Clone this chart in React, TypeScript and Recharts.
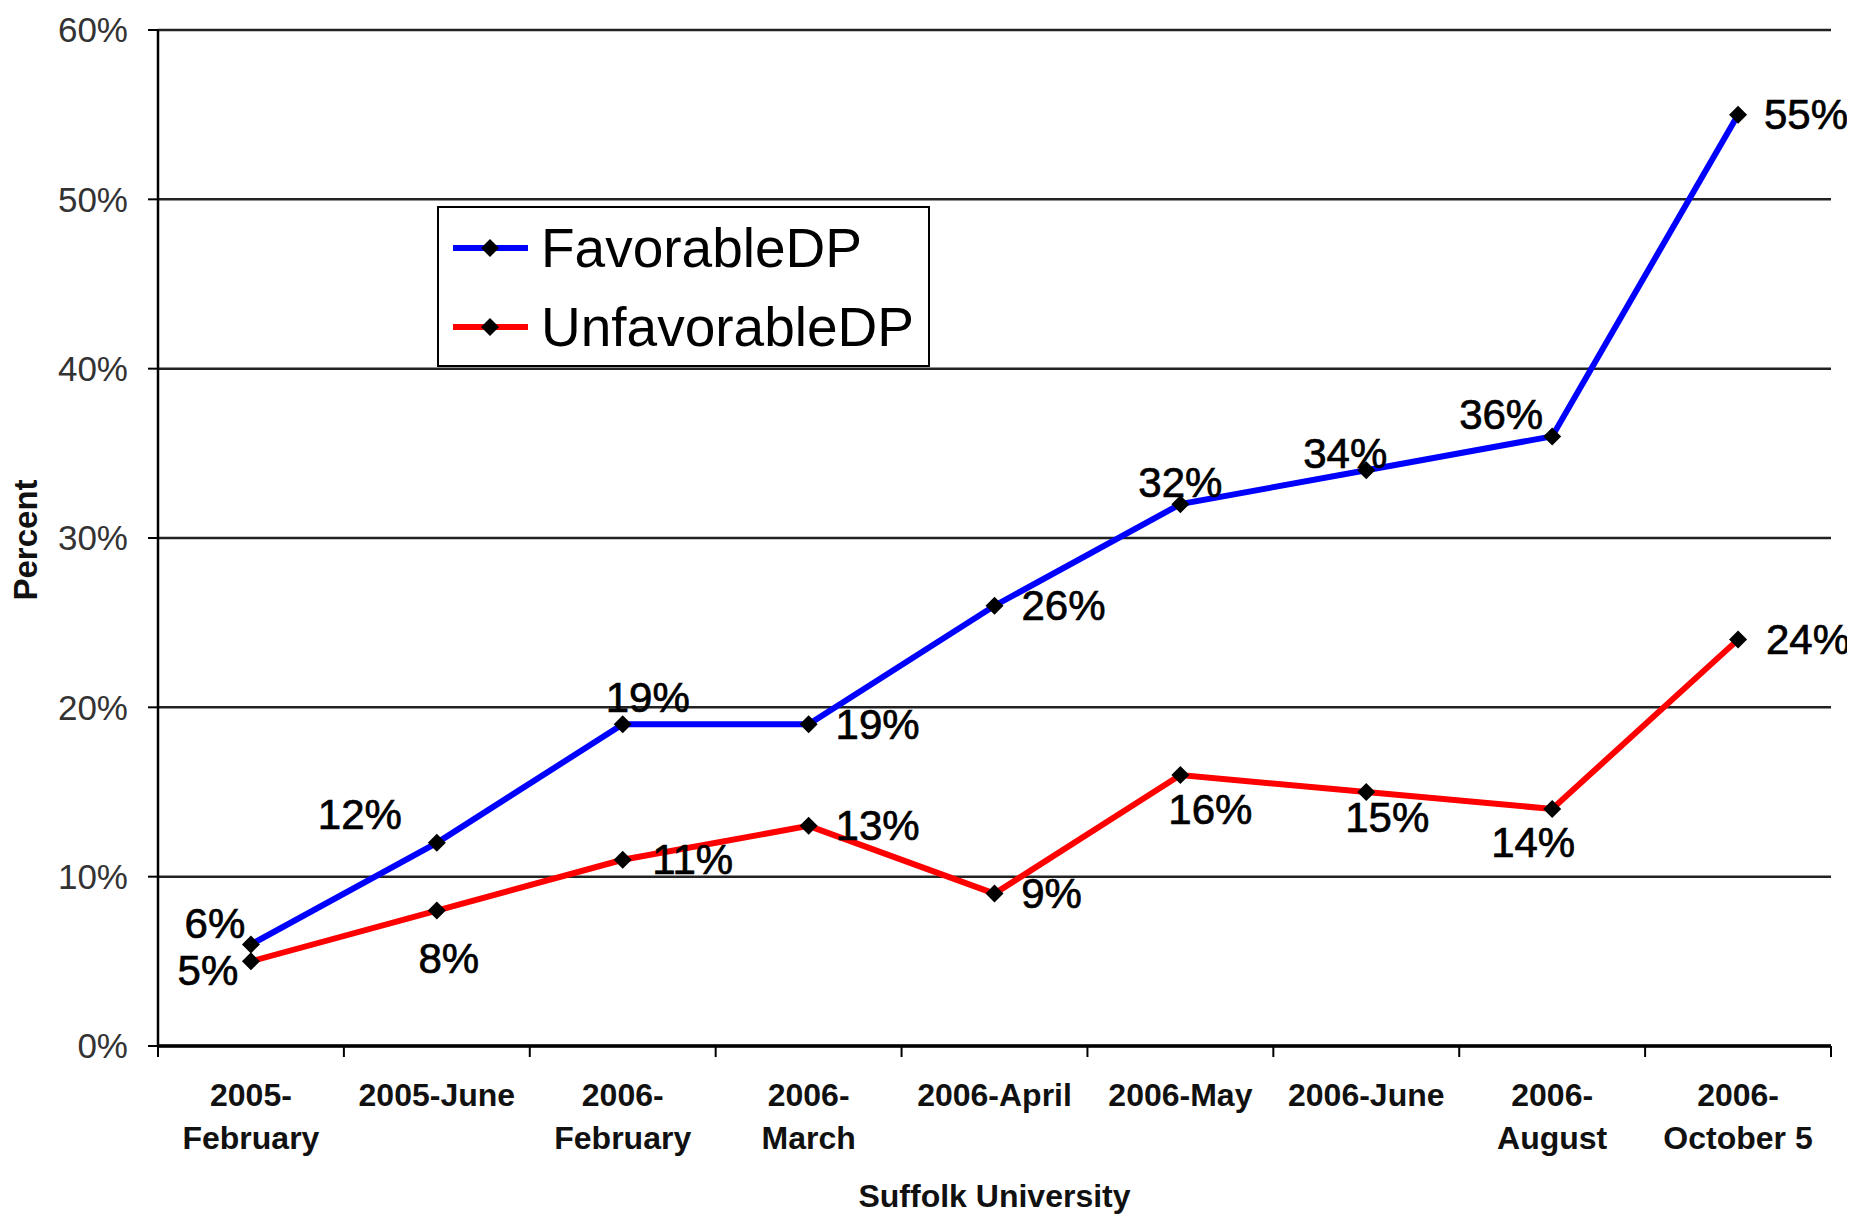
import React from 'react';
import { LineChart, Line, XAxis, YAxis, CartesianGrid, Legend, LabelList, Label } from 'recharts';

const categories = [
  '2005-February', '2005-June', '2006-February', '2006-March', '2006-April',
  '2006-May', '2006-June', '2006-August', '2006-October 5',
];
// how each category label wraps under the axis
const tickLines = [
  ['2005-', 'February'], ['2005-June'], ['2006-', 'February'], ['2006-', 'March'], ['2006-April'],
  ['2006-May'], ['2006-June'], ['2006-', 'August'], ['2006-', 'October 5'],
];
const favorable = [6, 12, 19, 19, 26, 32, 34, 36, 55];
const unfavorable = [5, 8, 11, 13, 9, 16, 15, 14, 24];
const yTicks = [0, 10, 20, 30, 40, 50, 60];

const data = categories.map((name, i) => ({
  name,
  FavorableDP: favorable[i],
  UnfavorableDP: unfavorable[i],
}));

// where each value label sits, relative to its point (label centre)
const favOffsets = [[-36, -21], [-77, -28], [25, -27], [69, 0], [69, 0], [0, -22], [-21, -17], [-51, -22], [68, 0]];
const unfavOffsets = [[-43, 9], [12, 48], [70, 0], [69, 0], [57, 0], [30, 34], [21, 25], [-19, 34], [70, 0]];

const W = 1847;
const H = 1207;
const PLOT_LEFT = 150;
const PLOT_RIGHT = 1823;
const BAND = (PLOT_RIGHT - PLOT_LEFT) / categories.length;
const FONT = '"Liberation Sans", Arial, sans-serif';

const Diamond = (props: any) => {
  const { cx, cy, index } = props;
  if (cx == null || cy == null) return null;
  const r = 9;
  return (
    <polygon
      key={`d-${index}`}
      points={`${cx},${cy - r} ${cx + r},${cy} ${cx},${cy + r} ${cx - r},${cy}`}
      fill="#000"
    />
  );
};

const valueLabel = (offsets: number[][]) => (props: any) => {
  const { x, y, value, index } = props;
  const [dx, dy] = offsets[index] || [0, 0];
  return (
    <text
      x={x + dx}
      y={y + dy}
      textAnchor="middle"
      dominantBaseline="central"
      fontFamily={FONT}
      fontSize={42}
      fill="#000"
      stroke="#000"
      strokeWidth={0.7}
    >
      {`${value}%`}
    </text>
  );
};

const XTick = (props: any) => {
  const { x, y, payload } = props;
  const idx = categories.indexOf(payload.value);
  const lines = tickLines[idx] || [payload.value];
  const left = x - BAND / 2;
  return (
    <g>
      <line x1={left} x2={left} y1={y} y2={y + 11} stroke="#000" strokeWidth={2} />
      {idx === categories.length - 1 && (
        <line x1={x + BAND / 2} x2={x + BAND / 2} y1={y} y2={y + 11} stroke="#000" strokeWidth={2} />
      )}
      <text x={x} y={y + 60} textAnchor="middle" fontFamily={FONT} fontWeight="bold" fontSize={32} fill="#111">
        {lines.map((l, i) => (
          <tspan key={i} x={x} dy={i === 0 ? 0 : 43}>{l}</tspan>
        ))}
      </text>
    </g>
  );
};

const LegendBox = (props: any) => {
  const items = props.payload || [];
  return (
    <svg width={493} height={161} style={{ display: 'block' }}>
      <rect x={1} y={1} width={491} height={159} fill="#fff" stroke="#000" strokeWidth={2} />
      {items.map((it: any, i: number) => {
        const cy = i === 0 ? 42 : 121;
        return (
          <g key={it.value}>
            <line x1={16} x2={91} y1={cy} y2={cy} stroke={it.color} strokeWidth={6} />
            <polygon points={`53,${cy - 9} 62,${cy} 53,${cy + 9} 44,${cy}`} fill="#000" />
            <text x={104} y={cy + 19} fontFamily={FONT} fontSize={55} fill="#000">{it.value}</text>
          </g>
        );
      })}
    </svg>
  );
};

export default function App() {
  return (
    <div style={{ width: W, height: H, background: '#fff' }}>
      <style>{'html,body{overflow:hidden}'}</style>
      <LineChart width={W} height={H} data={data} margin={{ top: 22, right: W - PLOT_RIGHT, left: 0, bottom: 0 }}>
        <CartesianGrid horizontal vertical={false} stroke="#222" strokeWidth={2.5} />
        <XAxis
          dataKey="name"
          padding={{ left: BAND / 2, right: BAND / 2 }}
          height={H - 1038}
          tickSize={0}
          tickMargin={0}
          tickLine={false}
          axisLine={{ stroke: '#000', strokeWidth: 3.5 }}
          tick={<XTick />}
          interval={0}
        >
          <Label
            content={(p: any) => {
              const vb = p.viewBox;
              return (
                <text x={vb.x + vb.width / 2} y={1199} textAnchor="middle" fontFamily={FONT} fontWeight="bold" fontSize={32} fill="#111">
                  Suffolk University
                </text>
              );
            }}
          />
        </XAxis>
        <YAxis
          domain={[0, 60]}
          ticks={yTicks}
          interval={0}
          width={PLOT_LEFT}
          tickSize={10}
          tickMargin={20}
          tickFormatter={(v: number) => `${v}%`}
          axisLine={{ stroke: '#000', strokeWidth: 2.5 }}
          tickLine={{ stroke: '#000', strokeWidth: 2 }}
          tick={{ fill: '#333', fontSize: 35, fontFamily: FONT }}
        >
          <Label
            content={(p: any) => {
              const vb = p.viewBox;
              const cy = vb.y + vb.height / 2 + 2;
              return (
                <text x={29} y={cy} transform={`rotate(-90, 29, ${cy})`} textAnchor="middle" fontFamily={FONT} fontWeight="bold" fontSize={33} fill="#111">
                  Percent
                </text>
              );
            }}
          />
        </YAxis>
        <Legend
          layout="vertical"
          align="center"
          verticalAlign="middle"
          content={<LegendBox />}
          wrapperStyle={{ position: 'absolute', left: 429, top: 198, width: 493, height: 161 }}
        />
        <Line
          dataKey="FavorableDP"
          stroke="#0000ff"
          strokeWidth={6}
          dot={(p: any) => <Diamond key={`f-${p.index}`} {...p} />}
          activeDot={false}
          isAnimationActive={false}
        >
          <LabelList dataKey="FavorableDP" content={valueLabel(favOffsets)} />
        </Line>
        <Line
          dataKey="UnfavorableDP"
          stroke="#ff0000"
          strokeWidth={6}
          dot={(p: any) => <Diamond key={`u-${p.index}`} {...p} />}
          activeDot={false}
          isAnimationActive={false}
        >
          <LabelList dataKey="UnfavorableDP" content={valueLabel(unfavOffsets)} />
        </Line>
      </LineChart>
    </div>
  );
}
